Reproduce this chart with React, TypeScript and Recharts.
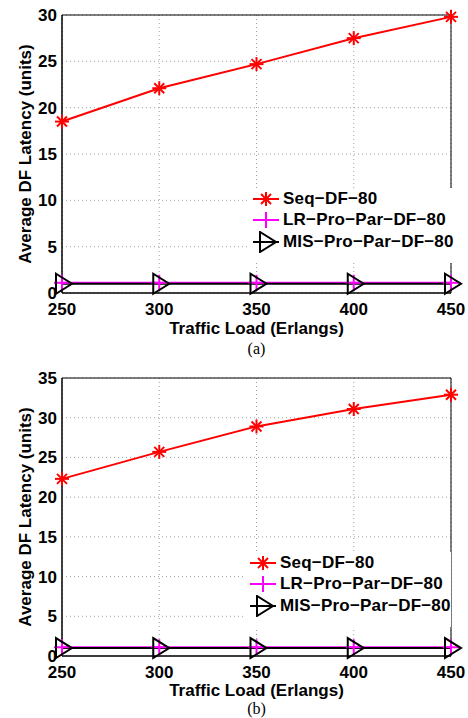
import React from "react";
import {
  CartesianGrid,
  Label,
  Legend,
  Line,
  LineChart,
  ReferenceArea,
  XAxis,
  YAxis
} from "recharts";

// traffic load (Erlangs)
const loads = [250, 300, 350, 400, 450];

// panel (a)
const seqA = [18.5, 22.1, 24.7, 27.5, 29.8];
const lrA = [1.1, 1.1, 1.1, 1.1, 1.1];
const misA = [1.0, 1.0, 1.0, 1.0, 1.0];
const yTicksA = [0, 5, 10, 15, 20, 25, 30];

// panel (b)
const seqB = [22.3, 25.7, 28.9, 31.1, 32.9];
const lrB = [1.1, 1.1, 1.1, 1.1, 1.1];
const misB = [1.0, 1.0, 1.0, 1.0, 1.0];
const yTicksB = [0, 5, 10, 15, 20, 25, 30, 35];

const seriesKeys = ["seq", "lr", "mis"];
const seriesNames = ["Seq−DF−80", "LR−Pro−Par−DF−80", "MIS−Pro−Par−DF−80"];
const seriesColors = ["#ff0000", "#ff00ff", "#000000"];

const FONT = "'Liberation Sans', Arial, Helvetica, sans-serif";
const PLOT_H = 278;

const buildRows = (seq: number[], lr: number[], mis: number[]) =>
  loads.map((load, i) => ({ load, seq: seq[i], lr: lr[i], mis: mis[i] }));

const Marker = ({ kind, cx, cy }: { kind: string; cx: number; cy: number }) => {
  if (kind === "seq") {
    return (
      <g stroke="#ff0000" strokeWidth={2}>
        <line x1={cx - 7} y1={cy} x2={cx + 7} y2={cy} />
        <line x1={cx} y1={cy - 7} x2={cx} y2={cy + 7} />
        <line x1={cx - 5} y1={cy - 5} x2={cx + 5} y2={cy + 5} />
        <line x1={cx - 5} y1={cy + 5} x2={cx + 5} y2={cy - 5} />
      </g>
    );
  }
  if (kind === "lr") {
    return (
      <g stroke="#ff00ff" strokeWidth={2}>
        <line x1={cx - 8} y1={cy} x2={cx + 8} y2={cy} />
        <line x1={cx} y1={cy - 8} x2={cx} y2={cy + 8} />
      </g>
    );
  }
  return (
    <polygon
      points={`${cx - 6},${cy - 10} ${cx - 6},${cy + 10} ${cx + 10},${cy}`}
      fill="none"
      stroke="#000"
      strokeWidth={2}
      strokeLinejoin="miter"
    />
  );
};

const dotFor = (kind: string) => (p: any) =>
  p.cx == null ? <g key={p.index} /> : <Marker key={p.index} kind={kind} cx={p.cx} cy={p.cy} />;

const renderLegend = () => (
  <div style={{ background: "#fff", paddingBottom: 10 }}>
    {seriesKeys.map((k, i) => (
      <div key={k} style={{ display: "flex", alignItems: "center", height: 21.5 }}>
        <svg width={35} height={22} style={{ flex: "none" }}>
          <line x1={5} y1={11} x2={31} y2={11} stroke={seriesColors[i]} strokeWidth={2} />
          <Marker kind={k} cx={18} cy={11} />
        </svg>
        <span
          style={{
            fontFamily: FONT,
            fontWeight: 700,
            fontSize: 17,
            letterSpacing: 0.2,
            color: "#000",
            whiteSpace: "nowrap"
          }}
        >
          {seriesNames[i]}
        </span>
      </div>
    ))}
  </div>
);

interface PanelProps {
  rows: { load: number; seq: number; lr: number; mis: number }[];
  yTicks: number[];
  caption: string;
  top: number;
  height: number;
  marginTop: number;
  legendLeft: number;
  legendTop: number;
  titleDy: number;
  captionDy: number;
}

const Panel = ({
  rows,
  yTicks,
  caption,
  top,
  height,
  marginTop,
  legendLeft,
  legendTop,
  titleDy,
  captionDy
}: PanelProps) => {
  const plotBottom = marginTop + PLOT_H;
  const yMax = yTicks[yTicks.length - 1];
  return (
    <div style={{ position: "absolute", left: 0, top }}>
      <LineChart
        width={468}
        height={height}
        data={rows}
        margin={{ top: marginTop, right: 17, left: 0, bottom: height - plotBottom - 30 }}
      >
        <CartesianGrid stroke="#a0a0a0" strokeDasharray="1 3" />
        <ReferenceArea x1={250} x2={450} y1={0} y2={yMax} fill="none" stroke="#000" strokeWidth={1} />
        <XAxis
          dataKey="load"
          type="number"
          domain={[250, 450]}
          ticks={loads}
          height={30}
          tickSize={0}
          tickMargin={10}
          axisLine={{ stroke: "#000" }}
          tick={{ fill: "#000", fontFamily: FONT, fontWeight: 700, fontSize: 17 }}
        >
          <Label
            content={() => (
              <g>
                <text
                  x={256.5}
                  y={plotBottom + titleDy}
                  textAnchor="middle"
                  fontFamily={FONT}
                  fontWeight={700}
                  fontSize={17}
                  fill="#000"
                >
                  Traffic Load (Erlangs)
                </text>
                <text
                  x={256.5}
                  y={plotBottom + captionDy}
                  textAnchor="middle"
                  fontFamily="'Liberation Serif', 'Times New Roman', serif"
                  fontSize={16}
                  fill="#000"
                >
                  {caption}
                </text>
              </g>
            )}
          />
        </XAxis>
        <YAxis
          type="number"
          domain={[0, yMax]}
          ticks={yTicks}
          width={62}
          tickSize={0}
          tickMargin={5}
          axisLine={{ stroke: "#000" }}
          tick={{ fill: "#000", fontFamily: FONT, fontWeight: 700, fontSize: 17 }}
        >
          <Label
            content={() => (
              <text
                x={31}
                y={marginTop + PLOT_H / 2}
                transform={`rotate(-90 31 ${marginTop + PLOT_H / 2})`}
                textAnchor="middle"
                fontFamily={FONT}
                fontWeight={700}
                fontSize={17}
                fill="#000"
              >
                Average DF Latency (units)
              </text>
            )}
          />
        </YAxis>
        <Legend
          layout="vertical"
          align="center"
          verticalAlign="middle"
          wrapperStyle={{ left: legendLeft, top: legendTop, width: 206 }}
          content={renderLegend}
        />
        {seriesKeys.map((k, i) => (
          <Line
            key={k}
            dataKey={k}
            name={seriesNames[i]}
            stroke={seriesColors[i]}
            strokeWidth={2}
            dot={dotFor(k)}
            activeDot={false}
            isAnimationActive={false}
          />
        ))}
      </LineChart>
    </div>
  );
};

export default function App() {
  return (
    <div style={{ position: "absolute", left: 0, top: 0, width: 468, height: 718, background: "#fff" }}>
      <Panel
        rows={buildRows(seqA, lrA, misA)}
        yTicks={yTicksA}
        caption="(a)"
        top={0}
        height={360}
        marginTop={15}
        legendLeft={248}
        legendTop={188}
        titleDy={41}
        captionDy={61}
      />
      <Panel
        rows={buildRows(seqB, lrB, misB)}
        yTicks={yTicksB}
        caption="(b)"
        top={360}
        height={358}
        marginTop={18}
        legendLeft={245}
        legendTop={192}
        titleDy={40}
        captionDy={58}
      />
    </div>
  );
}
